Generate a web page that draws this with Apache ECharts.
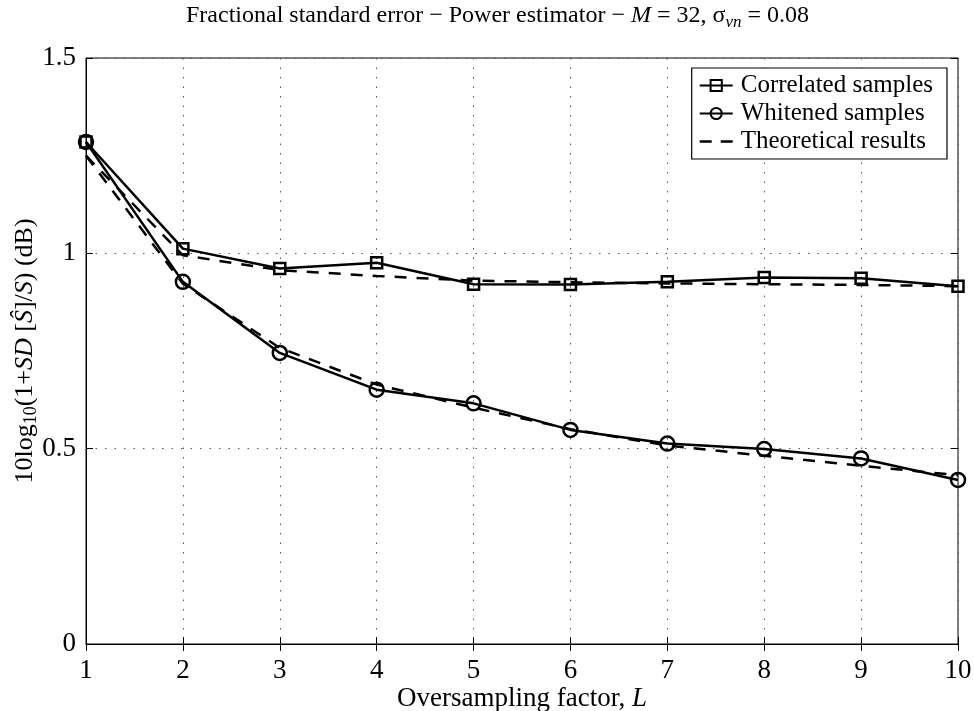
<!DOCTYPE html>
<html>
<head>
<meta charset="utf-8">
<script src="https://cdn.jsdelivr.net/npm/echarts@6/dist/echarts.min.js"></script>
<style>html,body{margin:0;padding:0;background:#fff}#c{width:974px;height:711px}</style>
</head>
<body>
<div id="c"></div>
<script>
const xValues = [1, 2, 3, 4, 5, 6, 7, 8, 9, 10];
const correlated = [1.285, 1.012, 0.961, 0.976, 0.921, 0.920, 0.927, 0.938, 0.936, 0.916];
const whitened = [1.285, 0.927, 0.745, 0.651, 0.616, 0.548, 0.513, 0.499, 0.475, 0.420];
const theoryCorrelated = [1.250, 0.995, 0.957, 0.942, 0.930, 0.926, 0.923, 0.921, 0.919, 0.916];
const theoryWhitened = [1.250, 0.922, 0.758, 0.664, 0.605, 0.550, 0.508, 0.482, 0.456, 0.432];
const yTicks = [0, 0.5, 1, 1.5];

const FONT = '"Liberation Serif", "Times New Roman", serif';
const pair = arr => xValues.map((x, i) => [x, arr[i]]);

const gridDots = {show: true, lineStyle: {color: '#555', type: [1.5, 8], width: 1}};

const chart = echarts.init(document.getElementById('c'), null, {renderer: 'canvas'});
chart.setOption({
  animation: false,
  backgroundColor: '#fff',
  textStyle: {fontFamily: FONT, color: '#000'},
  title: {
    text: 'Fractional standard error − Power estimator − {i|M} = 32, σ{sub|vn} = 0.08',
    left: 181, top: -5,
    textStyle: {
      fontFamily: FONT, fontSize: 24, fontWeight: 'normal', color: '#000',
      rich: {
        i: {fontFamily: FONT, fontSize: 24, fontStyle: 'italic', color: '#000'},
        sub: {fontFamily: FONT, fontSize: 17, fontStyle: 'italic', color: '#000', padding: [14, 0, 0, 0]}
      }
    }
  },
  legend: {
    right: 27, top: 68,
    orient: 'vertical',
    backgroundColor: '#fff',
    borderColor: '#000', borderWidth: 1.2,
    padding: [5, 14, 5, 7],
    itemGap: 3,
    itemWidth: 33, itemHeight: 14,
    textStyle: {fontFamily: FONT, fontSize: 25, color: '#000', padding: [0, 0, 0, 3]},
    data: [
      {name: 'Correlated samples'},
      {name: 'Whitened samples'},
      {name: 'Theoretical results', icon: 'path://M0,0 H12 V2.5 H0 Z M21,0 H33 V2.5 H21 Z'}
    ]
  },
  grid: {left: 86, right: 16, top: 58, bottom: 67, containLabel: false, outerBoundsMode: 'none',
    show: true, borderColor: '#000', borderWidth: 1},
  xAxis: [{
    type: 'value', min: 1, max: 10, interval: 1,
    name: 'Oversampling factor, {i|L}',
    nameLocation: 'middle', nameGap: 41, nameMoveOverlap: false,
    nameTextStyle: {fontFamily: FONT, fontSize: 27, color: '#000',
      rich: {i: {fontFamily: FONT, fontSize: 27, fontStyle: 'italic', color: '#000'}}},
    axisLine: {show: true, lineStyle: {color: '#000', width: 1}},
    axisTick: {show: true, inside: true, length: 7, lineStyle: {color: '#000'}},
    axisLabel: {fontFamily: FONT, fontSize: 27, color: '#000', margin: 13},
    splitLine: gridDots
  }, {
    type: 'value', position: 'top', min: 1, max: 10, interval: 1,
    axisLine: {show: false}, axisLabel: {show: false},
    axisTick: {show: true, inside: true, length: 7, lineStyle: {color: '#000'}},
    splitLine: {show: false}
  }],
  yAxis: [{
    type: 'value', min: yTicks[0], max: yTicks[yTicks.length - 1], interval: 0.5,
    name: '10log{sub|10}(1+{i|SD} [{i|Ŝ}]/{i|S}) (dB)',
    nameLocation: 'middle', nameGap: 46, nameRotate: 90, nameMoveOverlap: false,
    nameTextStyle: {fontFamily: FONT, fontSize: 26, color: '#000',
      rich: {
        i: {fontFamily: FONT, fontSize: 26, fontStyle: 'italic', color: '#000'},
        sub: {fontFamily: FONT, fontSize: 18, color: '#000', padding: [12, 0, 0, 0]}
      }},
    axisLine: {show: true, lineStyle: {color: '#000', width: 1}},
    axisTick: {show: true, inside: true, length: 7, lineStyle: {color: '#000'}},
    axisLabel: {fontFamily: FONT, fontSize: 27, color: '#000', margin: 10},
    splitLine: gridDots
  }, {
    type: 'value', position: 'right', min: 0, max: 1.5, interval: 0.5,
    axisLine: {show: false}, axisLabel: {show: false},
    axisTick: {show: true, inside: true, length: 7, lineStyle: {color: '#000'}},
    splitLine: {show: false}
  }],
  series: [
    {
      name: 'Correlated samples', type: 'line', data: pair(correlated),
      symbol: 'rect', symbolSize: 11, showAllSymbol: true,
      lineStyle: {color: '#000', width: 2.5},
      itemStyle: {color: 'rgba(255,255,255,0)', borderColor: '#000', borderWidth: 2.5},
      z: 4
    },
    {
      name: 'Whitened samples', type: 'line', data: pair(whitened),
      symbol: 'circle', symbolSize: 14, showAllSymbol: true,
      lineStyle: {color: '#000', width: 2.5},
      itemStyle: {color: 'rgba(255,255,255,0)', borderColor: '#000', borderWidth: 2.5},
      z: 4
    },
    {
      name: 'Theoretical results', type: 'line', data: pair(theoryCorrelated),
      symbol: 'none',
      lineStyle: {color: '#000', width: 2.5, type: [12, 10]},
      itemStyle: {color: '#000'},
      z: 3
    },
    {
      name: 'Theoretical results', type: 'line', data: pair(theoryWhitened),
      symbol: 'none',
      lineStyle: {color: '#000', width: 2.5, type: [12, 10]},
      itemStyle: {color: '#000'},
      z: 3
    }
  ]
});
</script>
</body>
</html>
